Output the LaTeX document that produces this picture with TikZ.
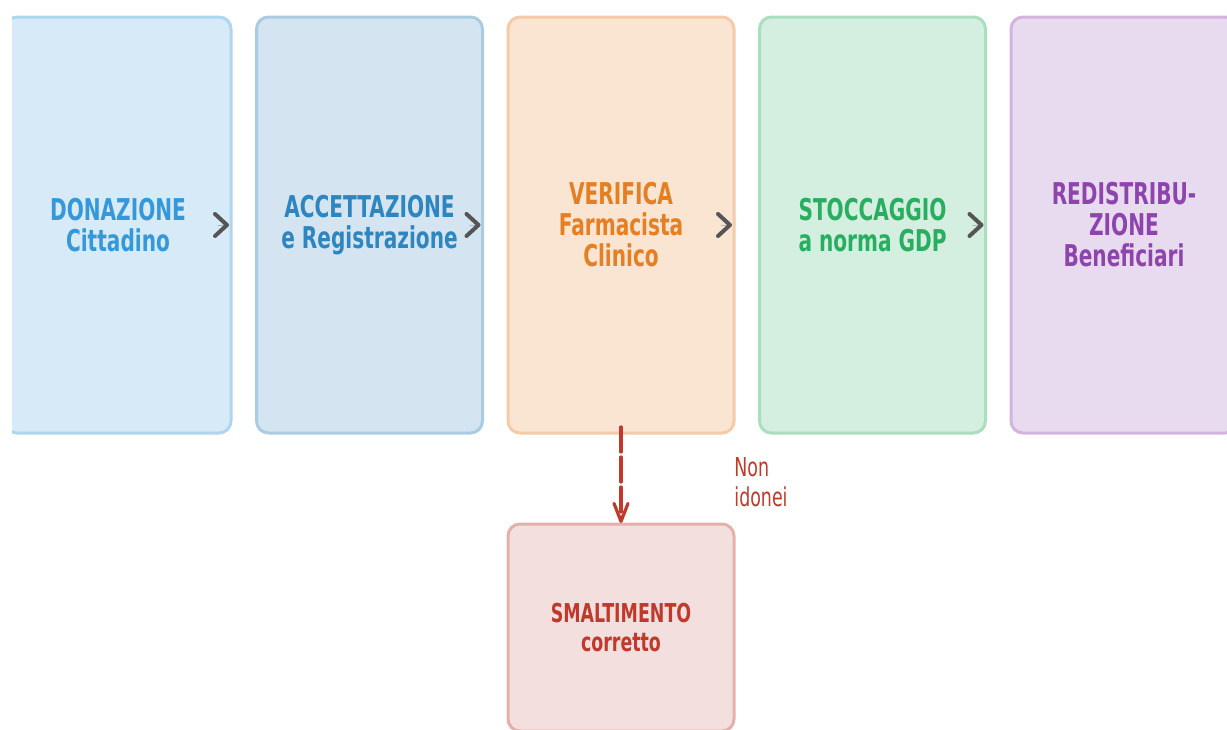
\documentclass[tikz,border=0pt]{standalone}
\usepackage{fontspec}
\setmainfont{DejaVu Sans}[FakeStretch=0.67]
\usepackage{tikz}
\usetikzlibrary{arrows.meta,positioning}
\definecolor{donfill}{HTML}{D6EAF8}
\definecolor{dondraw}{HTML}{AED6F1}
\definecolor{dontext}{HTML}{3498DB}
\definecolor{accfill}{HTML}{D4E4F0}
\definecolor{accdraw}{HTML}{A9CCE3}
\definecolor{acctext}{HTML}{2E86C1}
\definecolor{verfill}{HTML}{FAE5D3}
\definecolor{verdraw}{HTML}{F5CBA7}
\definecolor{vertext}{HTML}{E67E22}
\definecolor{stofill}{HTML}{D4EEE0}
\definecolor{stodraw}{HTML}{A9DFBF}
\definecolor{stotext}{HTML}{27AE60}
\definecolor{redfill}{HTML}{E8DAEF}
\definecolor{reddraw}{HTML}{D2B4DE}
\definecolor{redtext}{HTML}{8E44AD}
\definecolor{smafill}{HTML}{F4DFDF}
\definecolor{smadraw}{HTML}{E6B0AA}
\definecolor{rejectred}{HTML}{C0392B}
\definecolor{arrowgray}{HTML}{555555}
\tikzset{
    every picture/.style={line cap=round,line join=round},
    stagebox/.style={rounded corners=6pt,line width=1.5pt,
      minimum width=113pt,minimum height=208pt,inner sep=2pt,outer sep=0pt,
      align=center,font=\fontsize{15}{15.5}\selectfont\bfseries},
    nextarrow/.style={-{Straight Barb[length=6pt,width=11pt,round,line width=2pt]},
      draw=arrowgray,line width=0.01pt,shorten <=50pt,shorten >=70.25pt},
    rejectarrow/.style={-{Straight Barb[length=9pt,width=7pt,round]},
      draw=rejectred,line width=1.6pt,dash pattern=on 12.5pt off 2.5pt,
      shorten <=-3pt,shorten >=0.5pt},
    edgelabel/.style={text=rejectred,inner sep=0pt,align=left,
      font=\fontsize{13}{15}\selectfont}
}

\begin{document}
\begin{tikzpicture}
  \useasboundingbox (0,0) rectangle (613.5pt,-364.5pt);
  \clip (6pt,0) rectangle (613.5pt,-364.5pt);
  \node[stagebox,draw=dondraw,fill=donfill,text=dontext] (don)
    at (59pt,-112.5pt) {DONAZIONE\\Cittadino};
  \node[stagebox,draw=accdraw,fill=accfill,text=acctext,right=12.75pt of don] (acc)
    {ACCETTAZIONE\\e Registrazione};
  \node[stagebox,draw=verdraw,fill=verfill,text=vertext,right=12.75pt of acc] (ver)
    {VERIFICA\\Farmacista\\Clinico};
  \node[stagebox,draw=stodraw,fill=stofill,text=stotext,right=12.75pt of ver] (sto)
    {STOCCAGGIO\\a norma GDP};
  \node[stagebox,draw=reddraw,fill=redfill,text=redtext,right=12.75pt of sto] (red)
    {REDISTRIBU-\\ZIONE\\Beneficiari};
  \node[stagebox,draw=smadraw,fill=smafill,text=rejectred,minimum height=103.5pt,
        font=\fontsize{13}{14.5}\selectfont\bfseries,below=45.5pt of ver] (sma)
    {SMALTIMENTO\\corretto};
  \draw[nextarrow] (don.center)--(acc.center);
  \draw[nextarrow] (acc.center)--(ver.center);
  \draw[nextarrow] (ver.center)--(sto.center);
  \draw[nextarrow] (sto.center)--(red.center);
  \draw[rejectarrow] (ver)--(sma);
  \node[edgelabel,anchor=north west] (noidonei)
    at ([yshift=-12pt]ver.south east) {Non\\idonei};
\end{tikzpicture}
\end{document}
